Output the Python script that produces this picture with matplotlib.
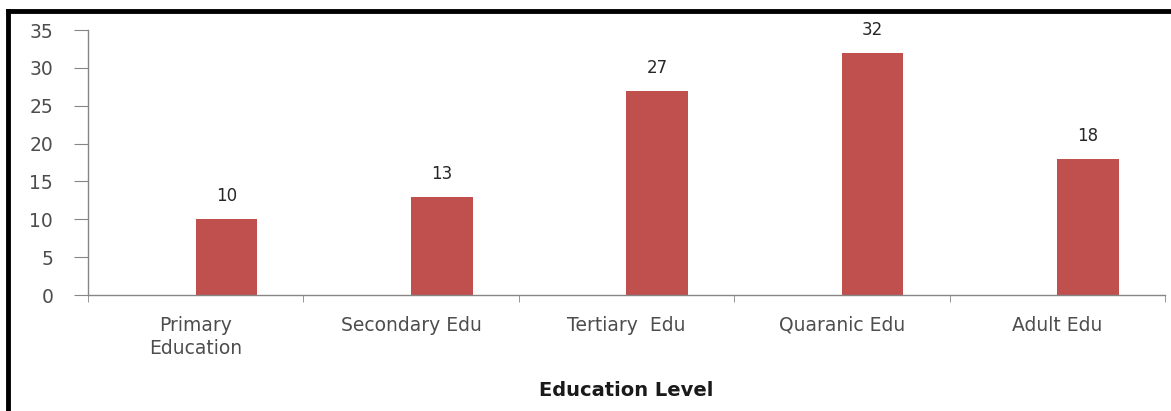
import numpy as np
import matplotlib.pyplot as plt
from matplotlib.lines import Line2D

# Respondents by education level
levels = ['Primary\nEducation', 'Secondary Edu', 'Tertiary  Edu', 'Quaranic Edu', 'Adult Edu']
counts = [10, 13, 27, 32, 18]

bar_color = '#C0504D'
axis_color = '#868686'
text_color = '#4d4d4d'

fig = plt.figure(figsize=(11.71, 4.11), dpi=100)
ax = fig.add_axes([0.0751, 0.2822, 0.9198, 0.6448])

x = np.arange(len(levels))
width = 1 / 3.5  # two series slots with 150% gap, only the second one is used
bars = ax.bar(x, counts, width=width, align='edge', color=bar_color, zorder=2)

for b, v in zip(bars, counts):
    ax.annotate(str(v), (b.get_x() + b.get_width() / 2, v),
                xytext=(0, 10), textcoords='offset points',
                ha='center', va='bottom', fontsize=12, color='#262626')

ax.set_xlim(-0.5, len(levels) - 0.5)
ax.set_ylim(0, 35)
ax.set_yticks(np.arange(0, 36, 5))

ax.set_xticks(x)
ax.set_xticklabels(levels, fontsize=13.5, color=text_color, linespacing=1.3)
ax.set_xticks(np.arange(-0.5, len(levels)), minor=True)
ax.tick_params(axis='x', which='major', length=0, pad=15)
ax.tick_params(axis='x', which='minor', length=5, color=axis_color, direction='out')
ax.tick_params(axis='y', length=10, color=axis_color, pad=15, labelsize=13.5,
               labelcolor=text_color)

for side in ('top', 'right'):
    ax.spines[side].set_visible(False)
for side in ('left', 'bottom'):
    ax.spines[side].set_color(axis_color)
    ax.spines[side].set_linewidth(1.0)

ax.set_xlabel('Education Level', fontsize=14, fontweight='bold', color='#1a1a1a',
              labelpad=16)

# frame lines along the top and left edges
fig.add_artist(Line2D([0.0068, 1.0], [0.973, 0.973], color='black', lw=3.5,
                      transform=fig.transFigure))
fig.add_artist(Line2D([0.0068, 0.0068], [0.0, 0.973], color='black', lw=3.5,
                      transform=fig.transFigure))

fig.savefig('out.png', dpi=100)
